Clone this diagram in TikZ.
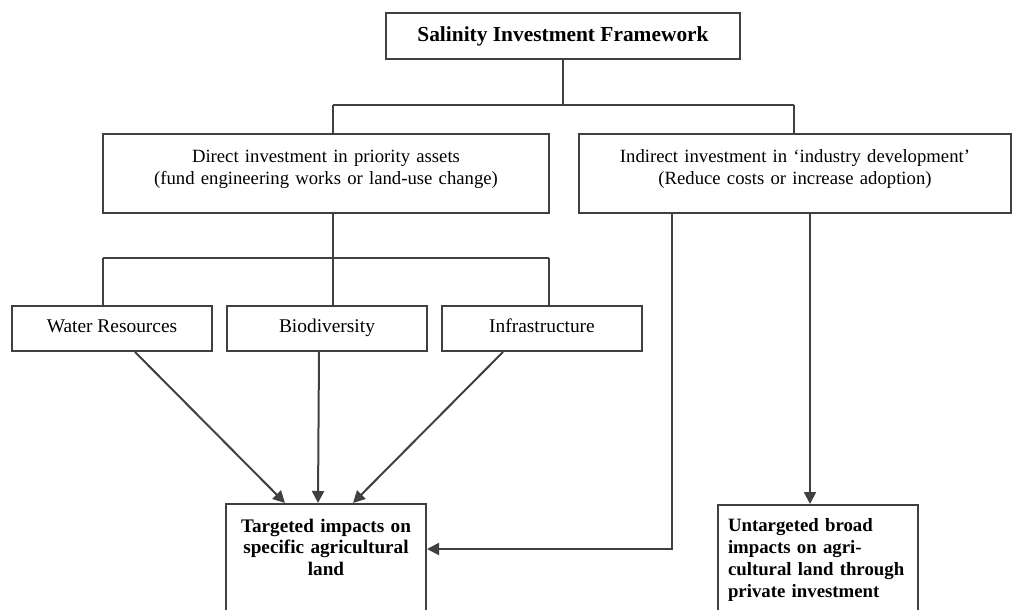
\documentclass[tikz,border=0pt]{standalone}
\usepackage{fontspec}
\setmainfont{Liberation Serif}
\usetikzlibrary{arrows.meta}
\begin{document}
\begin{tikzpicture}[x=0.5pt,y=-0.5pt,
  box/.style={draw=black!75, line width=1pt, fill=white, inner xsep=5pt, inner ysep=0pt,
    font=\fontsize{9.35}{10.9}\selectfont},
  small/.style={box, minimum width=100pt, text height=13.5pt, text depth=9pt,
    font=\fontsize{9.7}{11}\selectfont},
  ln/.style={draw=black!75, line width=1pt},
  arr/.style={ln, -{Triangle[length=6pt,width=6pt]}}]
\useasboundingbox (0,0) rectangle (1014,610);
% boxes
\node[box, minimum width=177pt, minimum height=23pt,
  font=\bfseries\fontsize{10.7}{12}\selectfont] (top) at (563,36) {Salinity Investment Framework};
\node[box, anchor=north, text width=213pt, align=center, text height=14.5pt, text depth=25pt]
  (direct) at (326,133) {Direct investment in priority assets\\(fund engineering works or land-use change)};
\node[box, anchor=north, text width=206pt, align=center, text height=14.5pt, text depth=25pt]
  (indirect) at (795,133) {Indirect investment in `industry development'\\(Reduce costs or increase adoption)};
\node[small, anchor=north] (water) at (112,305) {Water Resources};
\node[small, anchor=north] (bio) at (327,305) {Biodiversity};
\node[small, anchor=north] (infra) at (542,305) {Infrastructure};
\node[box, anchor=north, text width=90pt, align=center, text height=14pt, text depth=60pt,
  font=\bfseries\fontsize{9.6}{10.75}\selectfont]
  (target) at (326,503) {Targeted impacts on\\specific agricultural\\land};
\node[box, anchor=north, text width=90pt, align=left, text height=13pt, text depth=60pt,
  font=\bfseries\fontsize{9.4}{11}\selectfont]
  (untarg) at (818,504) {Untargeted broad\\impacts on agri-\\cultural land through\\private investment};
% connectors
\coordinate (h1) at (563,105);
\coordinate (h1l) at (333,105);
\coordinate (h1r) at (794,105);
\draw[ln] (top.south) -- (h1);
\draw[ln] (h1l) -- (h1r);
\draw[ln] (h1l) -- (h1l |- direct.north);
\draw[ln] (h1r) -- (h1r |- indirect.north);
\coordinate (h2l) at (103,258);
\coordinate (h2m) at (333,258);
\coordinate (h2r) at (549,258);
\draw[ln] (h2m |- direct.south) -- (h2m);
\draw[ln] (h2l) -- (h2r);
\draw[ln] (h2l) -- (h2l |- water.north);
\draw[ln] (h2m) -- (h2m |- bio.north);
\draw[ln] (h2r) -- (h2r |- infra.north);
\draw[arr] ([xshift=11.5pt]water.south) -- ([xshift=-20.5pt]target.north);
\draw[arr] ([xshift=-4pt]bio.south) -- ([xshift=-4pt]target.north);
\draw[arr] ([xshift=-19.5pt]infra.south) -- ([xshift=13.5pt]target.north);
\coordinate (c1) at (672,549);
\draw[arr] ([xshift=-61.5pt]indirect.south) -- (c1) -- (c1 -| target.east);
\draw[arr] ([xshift=7.5pt]indirect.south) -- ([xshift=7.5pt]indirect.south |- untarg.north);
\end{tikzpicture}
\end{document}
